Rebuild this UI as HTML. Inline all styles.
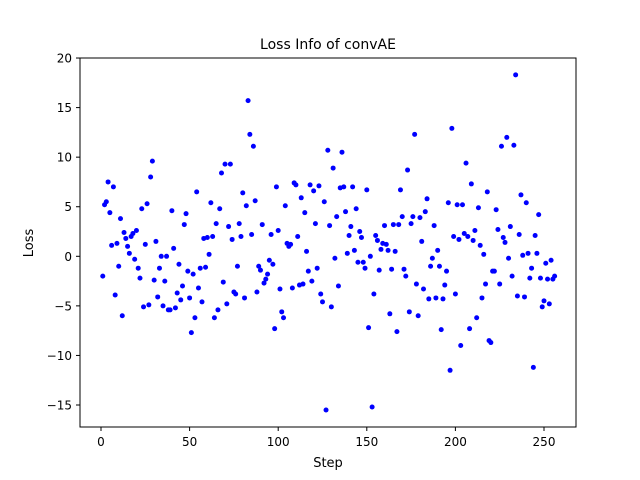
<!DOCTYPE html>
<html><head><meta charset="utf-8"><style>
html,body{margin:0;padding:0;background:#fff;}
svg{display:block;font-family:"DejaVu Sans","Liberation Sans",sans-serif;}
</style></head><body>
<svg id="chart" width="640" height="480" viewBox="0 0 640 480">
<rect x="0" y="0" width="640" height="480" fill="#fff"/>
<text x="328" y="49" text-anchor="middle" font-size="14">Loss Info of convAE</text>
<g id="points"></g>
<g id="xticks"></g>
<g id="yticks"></g>
<rect x="80" y="58" width="496" height="369" fill="none" stroke="#000" stroke-width="1"/>
<text x="328" y="467" text-anchor="middle" font-size="13">Step</text>
<text x="0" y="0" transform="translate(33,243) rotate(-90)" text-anchor="middle" font-size="13">Loss</text>
</svg>
<script>
const lossValues = [-2,5.2,5.5,7.5,4.4,1.1,7,-3.9,1.3,-1,3.8,-6,2.4,1.8,1,0.3,2,2.3,-0.3,2.6,-1.2,-2.2,4.8,-5.1,1.2,5.3,-4.9,8,9.6,-2.4,1.5,-4.1,-1.2,0,-5,-2.5,0,-5.4,-5.4,4.6,0.8,-5.2,-3.7,-0.8,-4.4,-3,3.2,4.3,-1.5,-4.2,-7.7,
-1.8,-6.2,6.5,-3.2,-1.2,-4.6,1.8,-1.1,1.9,0.2,5.4,2,-6.2,3.3,-5.4,4.8,8.4,-2.6,9.3,-4.8,3,9.3,1.7,-3.6,-3.8,-1,3.3,2,6.4,-4.2,5.1,15.7,12.3,2.2,11.1,5.6,-3.6,-1,-1.4,3.2,-2.7,-2.3,-1.8,-0.4,2.2,-0.8,-7.3,7,2.6,-3.3,-5.6,-6.2,
5.1,1.3,1,1.2,-3.2,7.4,7.2,2,-2.9,5.9,-2.8,4.4,0.5,-1.5,7.2,-2.5,6.6,3.3,-1.2,7.1,-3.8,-4.6,5.5,-15.5,10.7,3.1,-5.1,8.9,-0.2,4,-3,6.9,10.5,7,4.5,0.3,2.1,3,7,0.6,4.8,-0.6,2.5,1.9,-0.6,-1.2,6.7,-7.2,0,-15.2,-3.8,2.1,
1.6,-1.4,0.7,1.3,3.1,1.2,0.6,-5.8,-1.3,3.2,0.5,-7.6,3.2,6.7,4,-1.3,-2,8.7,-5.6,3.3,4,12.3,-2.8,-6,3.9,1.5,-3.3,4.5,5.8,-4.3,-1,-0.2,3.1,-4.2,0.6,-1,-7.4,-4.3,-2.9,-1.5,5.4,-11.5,12.9,2,-3.8,5.2,1.7,-9,5.2,2.3,9.4,
2,-7.3,7.3,1.6,2.6,-6.2,4.9,1.1,-4.2,0.2,-2.8,6.5,-8.5,-8.7,-1.5,-1.5,4.7,2.7,-2.8,11.1,1.9,1.4,12,-0.2,3,-2,11.2,18.3,-4,2.2,6.2,0.1,-4.1,5.4,0.3,-2.2,-1.2,-11.2,2.1,0.3,4.2,-2.2,-5.1,-4.5,-0.7,-2.3,-4.8,-0.4,-2.3,-2.0];
const xTickLabels = [0,50,100,150,200,250];
const yTickLabels = [-15,-10,-5,0,5,10,15,20];
const NS = "http://www.w3.org/2000/svg";
function xScale(v){ return 101 + (v) * 1.772; }
function yScale(v){ return 256.3 - v * 9.914; }
const pts = document.getElementById('points');
lossValues.forEach(function(v,i){
  const c = document.createElementNS(NS,'circle');
  c.setAttribute('cx', xScale(i+1));
  c.setAttribute('cy', yScale(v));
  c.setAttribute('r', 2.5);
  c.setAttribute('fill', '#0000ff');
  
  
  pts.appendChild(c);
});
const xt = document.getElementById('xticks');
xTickLabels.forEach(function(t){
  const x = xScale(t);
  const l = document.createElementNS(NS,'line');
  l.setAttribute('x1', x); l.setAttribute('x2', x);
  l.setAttribute('y1', 427); l.setAttribute('y2', 431);
  l.setAttribute('stroke', '#000');
  
  
  xt.appendChild(l);
  const tx = document.createElementNS(NS,'text');
  tx.setAttribute('x', x); tx.setAttribute('y', 446);
  tx.setAttribute('text-anchor', 'middle');
  tx.setAttribute('font-size', '12');
  
  
  tx.textContent = t;
  xt.appendChild(tx);
});
const yt = document.getElementById('yticks');
yTickLabels.forEach(function(t){
  const y = yScale(t);
  const l = document.createElementNS(NS,'line');
  l.setAttribute('x1', 76); l.setAttribute('x2', 80);
  l.setAttribute('y1', y); l.setAttribute('y2', y);
  l.setAttribute('stroke', '#000');
  
  
  yt.appendChild(l);
  const tx = document.createElementNS(NS,'text');
  tx.setAttribute('x', 72); tx.setAttribute('y', y + 4.5);
  tx.setAttribute('text-anchor', 'end');
  tx.setAttribute('font-size', '12');
  
  
  tx.textContent = (t < 0 ? '\u2212' + Math.abs(t) : t);
  yt.appendChild(tx);
});
</script>
</body></html>
